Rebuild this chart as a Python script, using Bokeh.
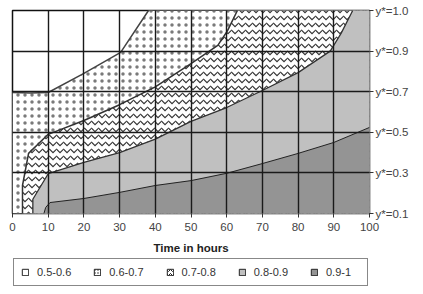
from bokeh.plotting import figure
from bokeh.layouts import column
from bokeh.models import FixedTicker, Legend, LegendItem, ColumnDataSource
from bokeh.embed import file_html
from bokeh.resources import INLINE

# ---- data -------------------------------------------------------------
x_ticks = [0, 10, 20, 30, 40, 50, 60, 70, 80, 90, 100]
y_rows = [0, 1, 2, 3, 4, 5]
y_labels = ["y*=0.1", "y*=0.3", "y*=0.5", "y*=0.7", "y*=0.9", "y*=1.0"]
classes = ["0.5-0.6", "0.6-0.7", "0.7-0.8", "0.8-0.9", "0.9-1"]

# boundary between 0.5-0.6 and 0.6-0.7 (row units, 0 = y*=0.1 ... 5 = y*=1.0)
b4_x = [0, 5, 10, 20, 30.3, 38.1]
b4_y = [2.98, 2.97, 2.98, 3.45, 3.97, 5.0]
# boundary between 0.6-0.7 and 0.7-0.8
b3_x = [2.8, 2.8, 4.5, 10, 20, 30, 40, 50, 57.5, 60.2, 63]
b3_y = [0.0, 0.69, 1.48, 1.95, 2.29, 2.68, 3.12, 3.69, 4.14, 4.5, 5.0]
# boundary between 0.7-0.8 and 0.8-0.9
b2_x = [5.7, 5.7, 10, 20, 30, 40, 50, 60, 70, 80, 89, 92, 95.3]
b2_y = [0.0, 0.35, 0.98, 1.26, 1.5, 1.83, 2.27, 2.61, 3.03, 3.47, 4.0, 4.43, 5.0]
# boundary between 0.8-0.9 and 0.9-1
b1_x = [8.8, 9.3, 10.5, 20, 30, 40, 50, 60, 70, 80, 90, 100]
b1_y = [0.0, 0.15, 0.27, 0.37, 0.52, 0.69, 0.81, 0.99, 1.23, 1.48, 1.75, 2.12]

FONT = "Liberation Sans"
LIGHT = "#c0c0c0"
DARK = "#949494"

p = figure(frame_width=357, frame_height=203, x_range=(0, 100), y_range=(0, 5),
           output_backend="svg", toolbar_location=None,
           y_axis_location="right",
           min_border_left=12, min_border_top=10,
           min_border_right=54, min_border_bottom=44)
p.background_fill_color = "white"
p.border_fill_color = "white"
p.outline_line_color = "#111111"
p.outline_line_width = 1.5

x_lo, x_hi = x_ticks[0], x_ticks[-1]
y_lo, y_hi = y_rows[0], y_rows[-1]

# painter's order: each region drawn as "everything below its upper boundary"
p.patch(b4_x + [x_hi, x_hi, x_lo], b4_y + [y_hi, y_lo, y_lo],
        fill_color="white", hatch_pattern="dot", hatch_scale=7,
        hatch_weight=0.5, hatch_color="#7a7a7a", line_color=None)
p.patch(b3_x + [x_hi, x_hi], b3_y + [y_hi, y_lo],
        fill_color="white", hatch_pattern="horizontal_wave", hatch_scale=7,
        hatch_weight=1.2, hatch_color="#333333", line_color=None)
p.patch(b2_x + [x_hi, x_hi], b2_y + [y_hi, y_lo],
        fill_color=LIGHT, line_color=None)
p.patch(b1_x + [x_hi], b1_y + [y_lo],
        fill_color=DARK, line_color=None)

p.line(b4_x, b4_y, line_color="#444444", line_width=1.5)
p.line(b3_x, b3_y, line_color="#333333", line_width=1.5)
p.line(b2_x, b2_y, line_color="#333333", line_width=1.3)
p.line(b1_x, b1_y, line_color="#222222", line_width=1.0)

# axes
p.xaxis.ticker = FixedTicker(ticks=x_ticks)
p.yaxis.ticker = FixedTicker(ticks=y_rows)
p.yaxis.major_label_overrides = {r: l for r, l in zip(y_rows, y_labels)}
for ax in (p.xaxis[0], p.yaxis[0]):
    ax.axis_line_color = None
    ax.major_tick_out = 4
    ax.major_tick_in = 0
    ax.minor_tick_out = 0
    ax.minor_tick_in = 0
    ax.major_tick_line_color = "#333333"
    ax.major_label_text_font = FONT
    ax.major_label_text_font_size = "11.5px"
    ax.major_label_text_color = "#444444"
p.xaxis.major_label_standoff = 5
p.yaxis.major_label_standoff = 2
p.xaxis.axis_label = "Time in hours"
p.xaxis.axis_label_text_font = FONT
p.xaxis.axis_label_text_font_size = "11.5px"
p.xaxis.axis_label_text_font_style = "bold"
p.xaxis.axis_label_text_color = "#222222"
p.xaxis.axis_label_standoff = 8

for g in (p.xgrid[0], p.ygrid[0]):
    g.grid_line_color = "#1a1a1a"
    g.grid_line_width = 1.4
    g.level = "overlay"
p.xgrid.ticker = FixedTicker(ticks=x_ticks)
p.ygrid.ticker = FixedTicker(ticks=y_rows)

# ---- legend strip (separate figure so the legend is not clipped) -------
lf = figure(width=423, height=37, output_backend="svg", toolbar_location=None,
            min_border=0, x_range=(0, 1), y_range=(0, 1),
            x_axis_location=None, y_axis_location=None)
lf.grid.visible = False
lf.outline_line_color = None
lf.background_fill_color = "white"
lf.border_fill_color = "white"

# legend proxies: degenerate quads placed outside the strip's visible range
proxy = ColumnDataSource(dict(left=[-1], right=[-1], top=[-1], bottom=[-1]))
styles = [
    dict(fill_color="white"),
    dict(fill_color="white", hatch_pattern="dot", hatch_scale=3, hatch_weight=0.8, hatch_color="#222222"),
    dict(fill_color="white", hatch_pattern="horizontal_wave", hatch_scale=4, hatch_weight=1.0, hatch_color="#222222"),
    dict(fill_color=LIGHT),
    dict(fill_color=DARK),
]
items = []
for lab, st in zip(classes, styles):
    r = lf.quad(source=proxy, left="left", right="right",
                top="top", bottom="bottom", line_color="#222222", line_width=1, **st)
    items.append(LegendItem(label=lab, renderers=[r]))

legend = Legend(items=items, orientation="horizontal", location=(1, 8),
                glyph_width=8, glyph_height=8, label_standoff=8, spacing=22,
                label_width=34, padding=7, margin=0,
                border_line_color="#111111", border_line_width=1.5,
                background_fill_color="white", background_fill_alpha=1.0,
                label_text_font=FONT, label_text_font_size="11px",
                label_text_color="#333333", label_height=11)
lf.add_layout(legend)

layout = column(p, lf, spacing=0)
open("out.html", "w").write(file_html(layout, INLINE))
